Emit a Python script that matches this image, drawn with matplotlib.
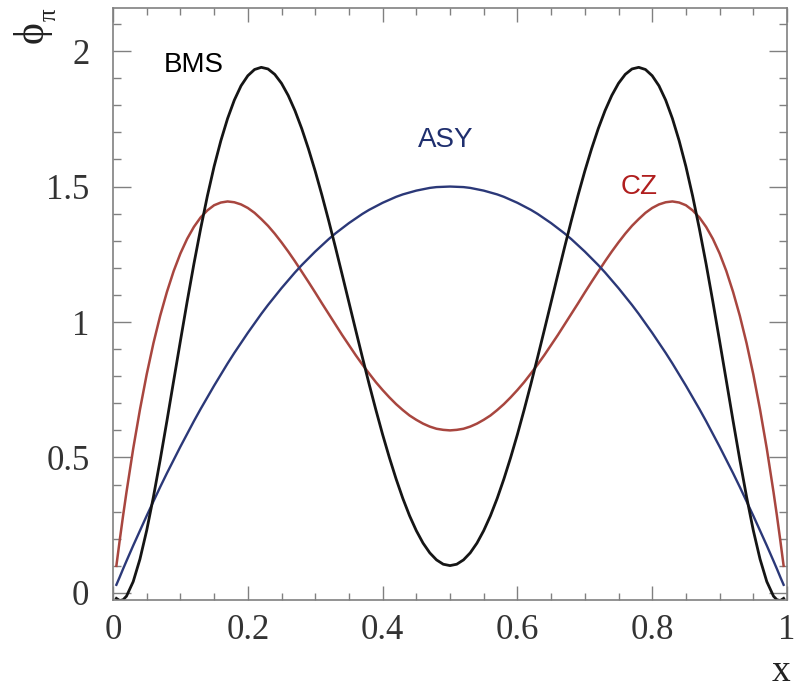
import numpy as np
import matplotlib
matplotlib.use("Agg")
import matplotlib.pyplot as plt
from matplotlib.ticker import MultipleLocator

# values
x_vals = [0.005, 0.01, 0.015, 0.02, 0.03, 0.04, 0.05, 0.06, 0.07, 0.08, 0.09,
          0.10, 0.11, 0.12, 0.13, 0.14, 0.15, 0.16, 0.17, 0.18, 0.19,
          0.20, 0.21, 0.22, 0.23, 0.24, 0.25, 0.26, 0.27, 0.28, 0.29,
          0.30, 0.31, 0.32, 0.33, 0.34, 0.35, 0.36, 0.37, 0.38, 0.39,
          0.40, 0.41, 0.42, 0.43, 0.44, 0.45, 0.46, 0.47, 0.48, 0.49,
          0.50,
          0.51, 0.52, 0.53, 0.54, 0.55, 0.56, 0.57, 0.58, 0.59, 0.60,
          0.61, 0.62, 0.63, 0.64, 0.65, 0.66, 0.67, 0.68, 0.69, 0.70,
          0.71, 0.72, 0.73, 0.74, 0.75, 0.76, 0.77, 0.78, 0.79, 0.80,
          0.81, 0.82, 0.83, 0.84, 0.85, 0.86, 0.87, 0.88, 0.89, 0.90,
          0.91, 0.92, 0.93, 0.94, 0.95, 0.96, 0.97, 0.98, 0.985, 0.99, 0.995]

asy = [0.030, 0.059, 0.089, 0.118, 0.175, 0.230, 0.285, 0.338, 0.391, 0.442, 0.491,
       0.540, 0.587, 0.634, 0.679, 0.722, 0.765, 0.806, 0.847, 0.886, 0.923,
       0.960, 0.995, 1.030, 1.063, 1.094, 1.125, 1.154, 1.183, 1.210, 1.235,
       1.260, 1.283, 1.306, 1.327, 1.346, 1.365, 1.382, 1.399, 1.414, 1.427,
       1.440, 1.451, 1.462, 1.471, 1.478, 1.485, 1.490, 1.495, 1.498, 1.499,
       1.500,
       1.499, 1.498, 1.495, 1.490, 1.485, 1.478, 1.471, 1.462, 1.451, 1.440,
       1.427, 1.414, 1.399, 1.382, 1.365, 1.346, 1.327, 1.306, 1.283, 1.260,
       1.235, 1.210, 1.183, 1.154, 1.125, 1.094, 1.063, 1.030, 0.995, 0.960,
       0.923, 0.886, 0.847, 0.806, 0.765, 0.722, 0.679, 0.634, 0.587, 0.540,
       0.491, 0.442, 0.391, 0.338, 0.285, 0.230, 0.175, 0.118, 0.089, 0.059, 0.030]

cz = [0.100, 0.195, 0.286, 0.372, 0.533, 0.677, 0.807, 0.922, 1.023, 1.111, 1.188,
      1.253, 1.307, 1.351, 1.386, 1.412, 1.431, 1.441, 1.445, 1.442, 1.434,
      1.421, 1.403, 1.380, 1.355, 1.326, 1.294, 1.260, 1.224, 1.186, 1.148,
      1.109, 1.069, 1.030, 0.991, 0.952, 0.915, 0.878, 0.843, 0.810, 0.778,
      0.749, 0.722, 0.697, 0.675, 0.655, 0.639, 0.625, 0.614, 0.606, 0.602,
      0.600,
      0.602, 0.606, 0.614, 0.625, 0.639, 0.655, 0.675, 0.697, 0.722, 0.749,
      0.778, 0.810, 0.843, 0.878, 0.915, 0.952, 0.991, 1.030, 1.069, 1.109,
      1.148, 1.186, 1.224, 1.260, 1.294, 1.326, 1.355, 1.380, 1.403, 1.421,
      1.434, 1.442, 1.445, 1.441, 1.431, 1.412, 1.386, 1.351, 1.307, 1.253,
      1.188, 1.111, 1.023, 0.922, 0.807, 0.677, 0.533, 0.372, 0.286, 0.195, 0.100]

bms = [-0.020, -0.028, -0.025, -0.012, 0.042, 0.125, 0.231, 0.355, 0.491, 0.635, 0.783,
       0.930, 1.075, 1.214, 1.344, 1.465, 1.574, 1.669, 1.751, 1.819, 1.872,
       1.909, 1.932, 1.940, 1.934, 1.914, 1.881, 1.836, 1.780, 1.714, 1.639,
       1.557, 1.468, 1.374, 1.276, 1.175, 1.073, 0.971, 0.870, 0.771, 0.676,
       0.585, 0.500, 0.421, 0.349, 0.285, 0.230, 0.184, 0.148, 0.122, 0.106,
       0.101,
       0.106, 0.122, 0.148, 0.184, 0.230, 0.285, 0.349, 0.421, 0.500, 0.585,
       0.676, 0.771, 0.870, 0.971, 1.073, 1.175, 1.276, 1.374, 1.468, 1.557,
       1.639, 1.714, 1.780, 1.836, 1.881, 1.914, 1.934, 1.940, 1.932, 1.909,
       1.872, 1.819, 1.751, 1.669, 1.574, 1.465, 1.344, 1.214, 1.075, 0.930,
       0.783, 0.635, 0.491, 0.355, 0.231, 0.125, 0.042, -0.012, -0.025, -0.028, -0.020]

x_ticks = [0, 0.2, 0.4, 0.6, 0.8, 1]
x_tick_labels = ["0", "0.2", "0.4", "0.6", "0.8", "1"]
y_ticks = [0, 0.5, 1, 1.5, 2]
y_tick_labels = ["0", "0.5", "1", "1.5", "2"]

plt.rcParams['font.family'] = ['Liberation Serif', 'DejaVu Serif']
sans = ['Liberation Sans', 'DejaVu Sans']

fig = plt.figure(figsize=(7.96, 6.90), dpi=100)
ax = fig.add_axes([113 / 796, 1 - 600 / 690, 674 / 796, 592 / 690])

ax.plot(x_vals, cz, color='#a8463f', lw=1.8)
ax.plot(x_vals, asy, color='#2b3878', lw=1.7)
ax.plot(x_vals, bms, color='#151515', lw=2.0)

ax.set_xlim(0, 1)
ax.set_ylim(-0.026, 2.159)

ax.set_xticks(x_ticks)
ax.set_xticklabels(x_tick_labels, fontsize=25, color='#333333')
ax.set_yticks(y_ticks)
ax.set_yticklabels(y_tick_labels, fontsize=25, color='#333333')
ax.xaxis.set_minor_locator(MultipleLocator(0.05))
ax.yaxis.set_minor_locator(MultipleLocator(0.1))

ax.tick_params(axis='both', which='both', direction='in', top=True, right=True,
               color='#808080', width=1.0)
ax.tick_params(axis='x', which='major', length=10, pad=10)
ax.tick_params(axis='x', which='minor', length=5)
ax.tick_params(axis='y', which='major', length=13, pad=17)
ax.tick_params(axis='y', which='minor', length=6)
for sp in ax.spines.values():
    sp.set_color('#808080')
    sp.set_linewidth(1.2)

ax.text(0.12, 1.95, "BMS", color='black', fontsize=20, fontfamily=sans,
        ha='center', va='center')
ax.text(0.493, 1.67, "ASY", color='#1f2f6e', fontsize=20, fontfamily=sans,
        ha='center', va='center')
ax.text(0.78, 1.50, "CZ", color='#b01e1e', fontsize=20, fontfamily=sans,
        ha='center', va='center')

# y-axis title phi_pi, rotated like the reference
fig.text(32 / 796, 1 - 32 / 690, "\u03d5", fontsize=30, rotation=90,
         ha='center', va='center', color='#222222')
fig.text(50 / 796, 1 - 15 / 690, "π", fontsize=18, rotation=90,
         ha='center', va='center', color='#222222')
fig.text(781 / 796, 1 - 672 / 690, "x", fontsize=27,
         ha='center', va='center', color='#222222')

fig.savefig("out.png", dpi=100)
